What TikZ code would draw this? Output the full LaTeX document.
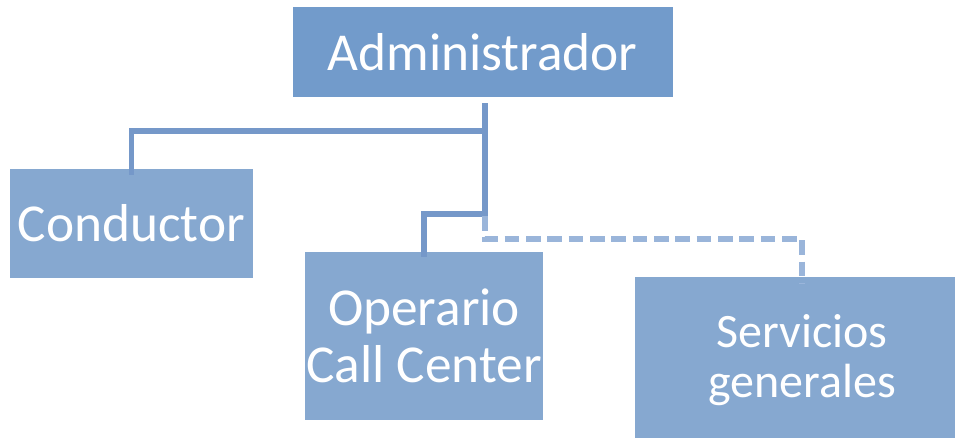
\documentclass[tikz,border=0pt]{standalone}
\usepackage{fontspec}
\setmainfont{Carlito}
\usepackage{tikz}

\definecolor{topblue}{HTML}{729BCB}
\definecolor{boxblue}{HTML}{86A8D0}
\definecolor{lineblue}{HTML}{7598C9}
\definecolor{dashblue}{HTML}{9AB5DA}

\begin{document}
\begin{tikzpicture}[x=0.75pt,y=0.75pt,yscale=-1,xscale=1,
  post/.style={fill=boxblue,text=white,inner sep=0pt,align=center,font=\fontsize{40}{43}\selectfont},
  link/.style={draw=lineblue,line width=3.8pt},
  dotlink/.style={draw=dashblue,line width=3.8pt,dash pattern=on 11pt off 5pt}]
\useasboundingbox (0,0) rectangle (955,437);

% Boxes
\node [post,fill=topblue,minimum width=285pt,minimum height=67.5pt] (admin) at (482.5,52) {Administrador};
\node [post,minimum width=182pt,minimum height=82pt] (conductor) at (131.5,223.5) {Conductor};
\node [post,minimum width=178.5pt,minimum height=126pt] (operario) at (424,336) {Operario\\Call Center};
\node [post,minimum width=250pt,minimum height=124pt,font=\fontsize{36}{37.5}\selectfont] (servicios) at (802,360) {Servicios\\generales};

% Connectors
\coordinate (hub) at (485,103);
\coordinate (split) at (485,216);
\draw [link] (hub) -- (split);
\draw [link] (hub |- 0,131) -| ([yshift=4.5pt]conductor.north);
\draw [link] (split |- 0,214) -| ([yshift=4pt]operario.north);
\draw [dotlink] (split) |- (802,239) -- ([yshift=4.5pt]servicios.north);

\end{tikzpicture}
\end{document}
